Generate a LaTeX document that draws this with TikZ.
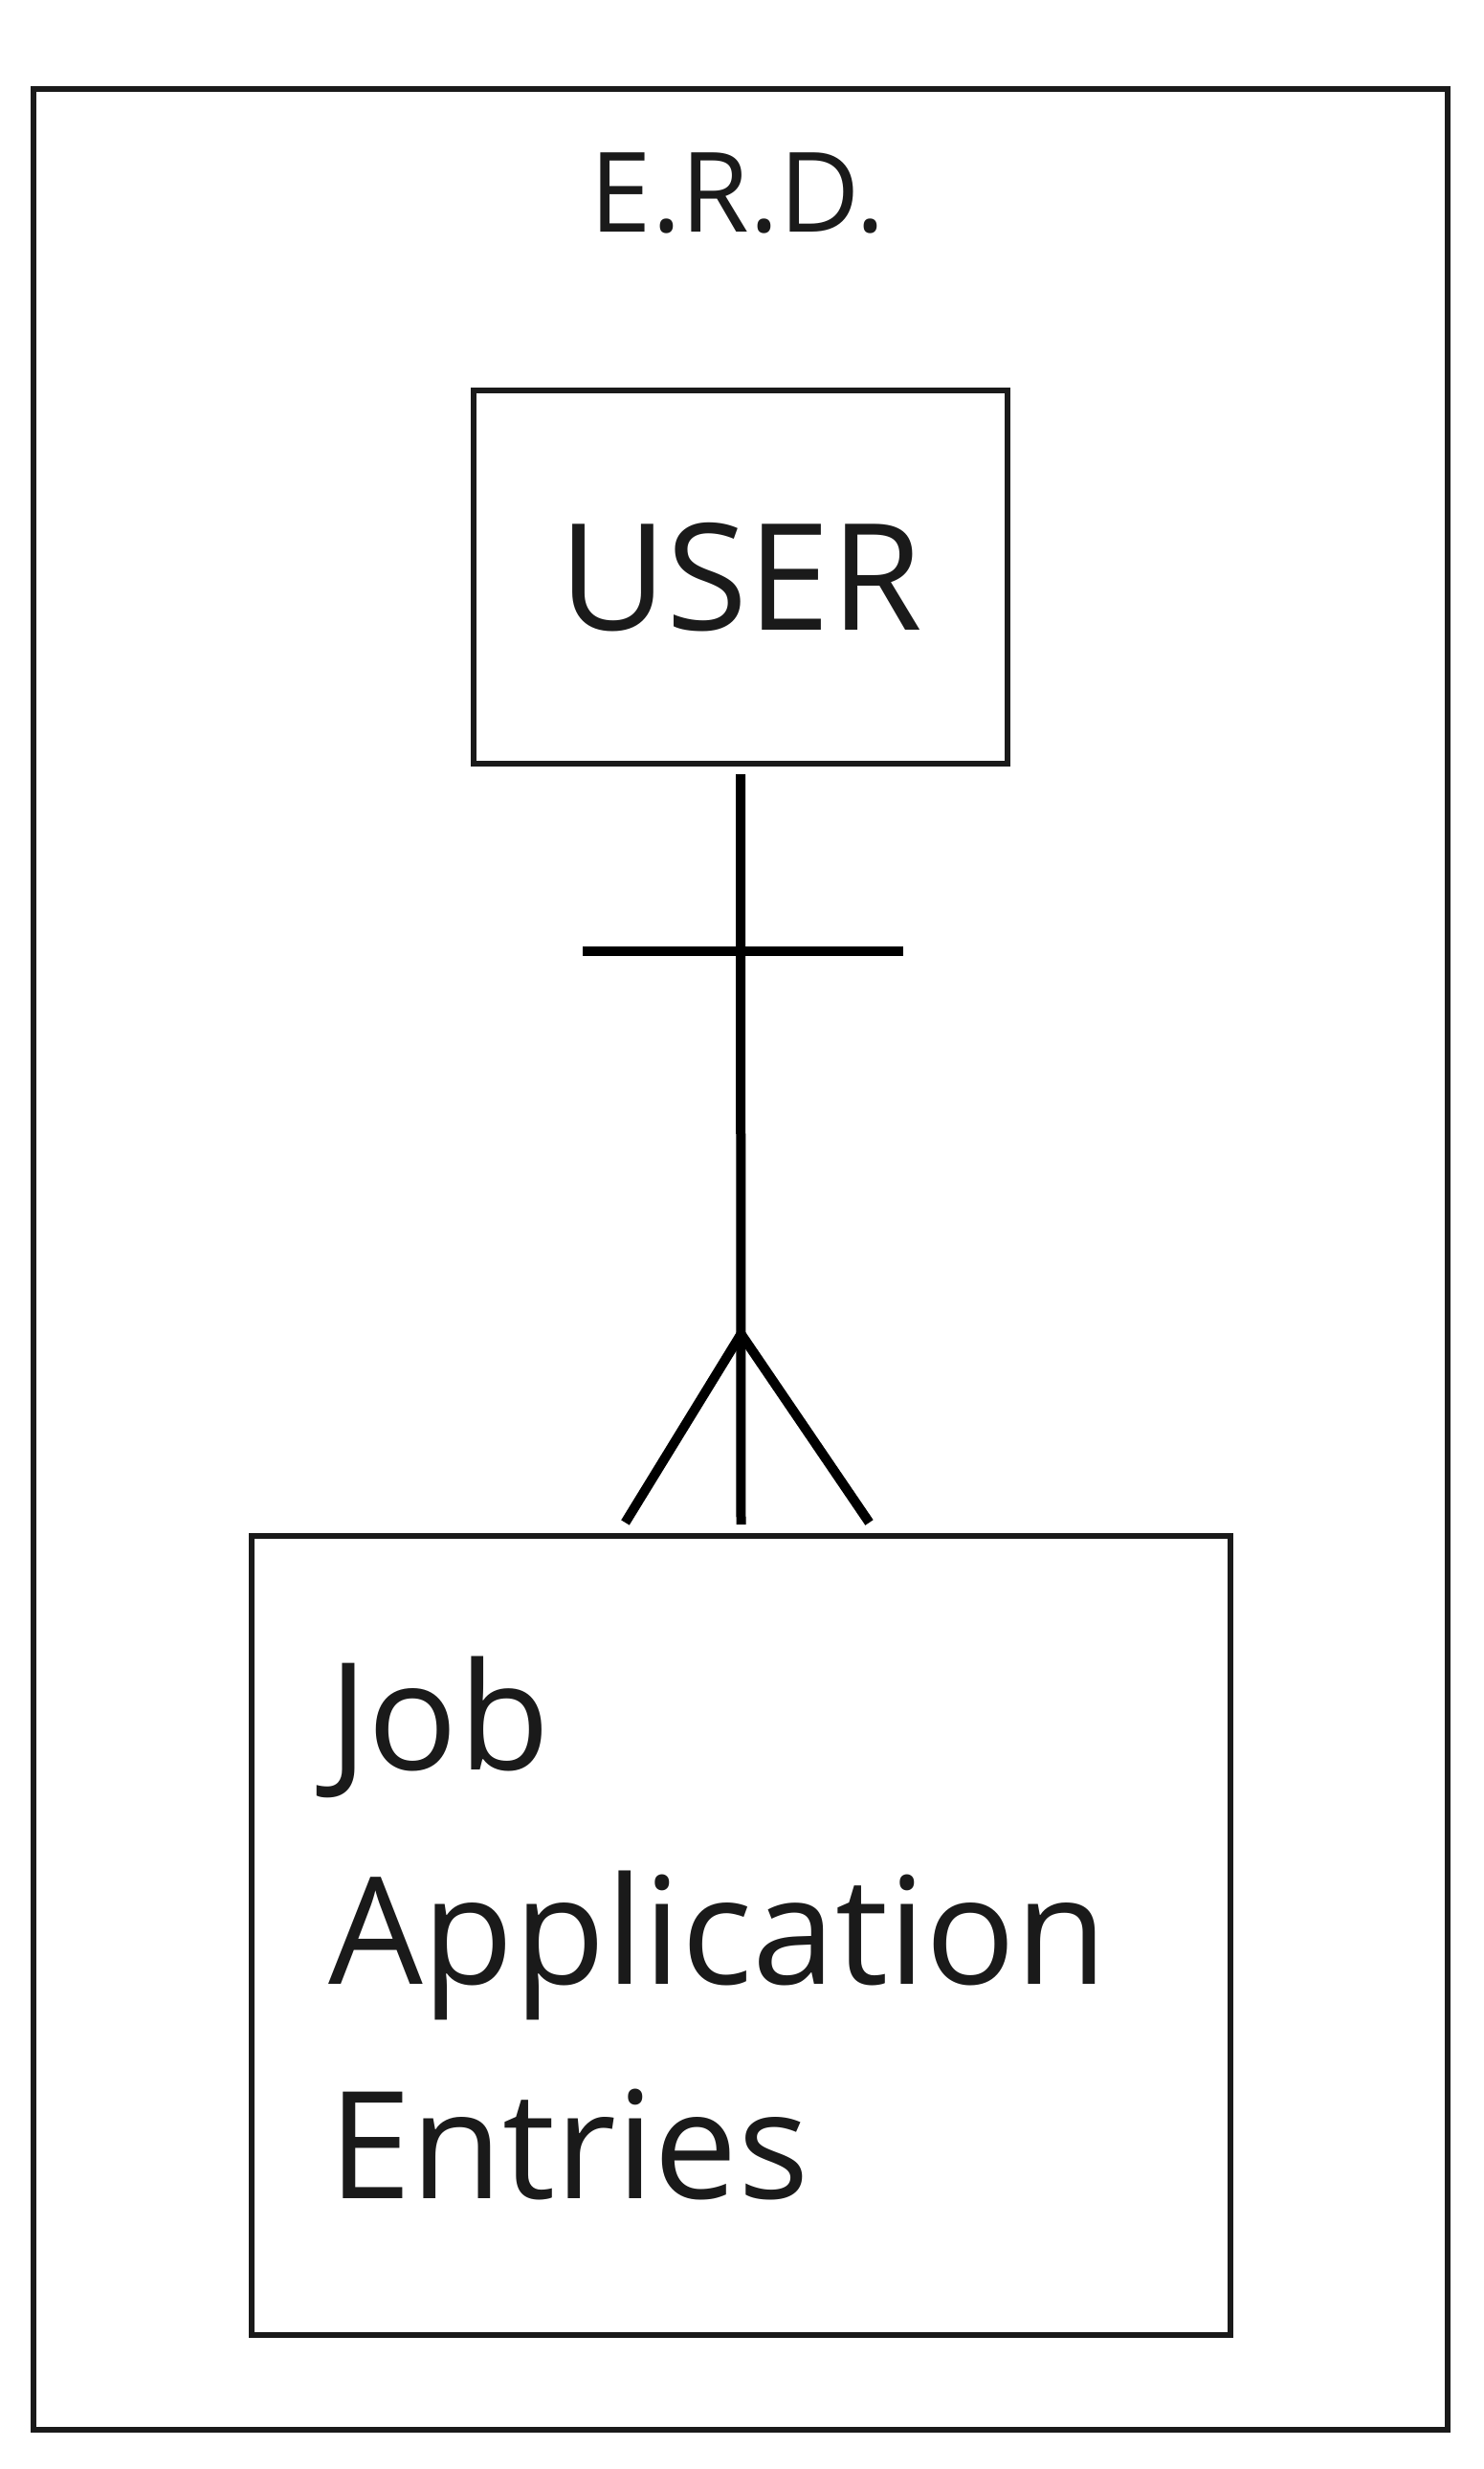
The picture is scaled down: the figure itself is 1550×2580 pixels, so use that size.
\documentclass[tikz,border=0pt]{standalone}
\usepackage{fontspec}
\setmainfont{Open Sans}
\usetikzlibrary{positioning,calc}
\definecolor{inkgrey}{HTML}{1A1A1A}
\tikzset{
  entity/.style={draw=inkgrey, line width=6pt, rectangle, inner sep=0pt, text=inkgrey},
  relation/.style={draw=black, line width=10pt},
  caption/.style={text=inkgrey, inner sep=0pt},
}

\begin{document}
\begin{tikzpicture}[x=1pt,y=-1pt]
		\useasboundingbox (0,0) rectangle (1550,2580);
		\draw[inkgrey, line width=6pt] (35,93) rectangle (1513,2539);
		\node[caption, anchor=base, font=\fontsize{116}{139}\selectfont] (title) at (771,242) {E.R.D.};
		\node[entity, minimum width=558pt, minimum height=390pt, font=\fontsize{155}{186}\selectfont] (user) at (774,603) {USER};
		\node[entity, minimum width=1023pt, minimum height=835pt] (jobs) at (774.5,2022.5) {};
		\node[caption, anchor=base west, align=left, font=\fontsize{156}{224}\selectfont] (jobstext) at ($(jobs.north west)+(83,695)$) {Job\\Application\\Entries};
		\coordinate (apex) at ($(jobs.north)+(0,-208)$);
		\coordinate (footl) at ($(jobs.north)+(-121,-11)$);
		\coordinate (footr) at ($(jobs.north)+(134,-11)$);
		\coordinate (barl) at ($(user.south)+(-165,193)$);
		\coordinate (barr) at ($(user.south)+(170,193)$);
		%
		\draw[relation, shorten <=8pt, shorten >=9pt] (user.south) -- (jobs.north);
		\draw[relation] (barl) -- (barr);
		\draw[relation] (apex) -- (footl);
		\draw[relation] (apex) -- (footr);
\end{tikzpicture}
\end{document}
